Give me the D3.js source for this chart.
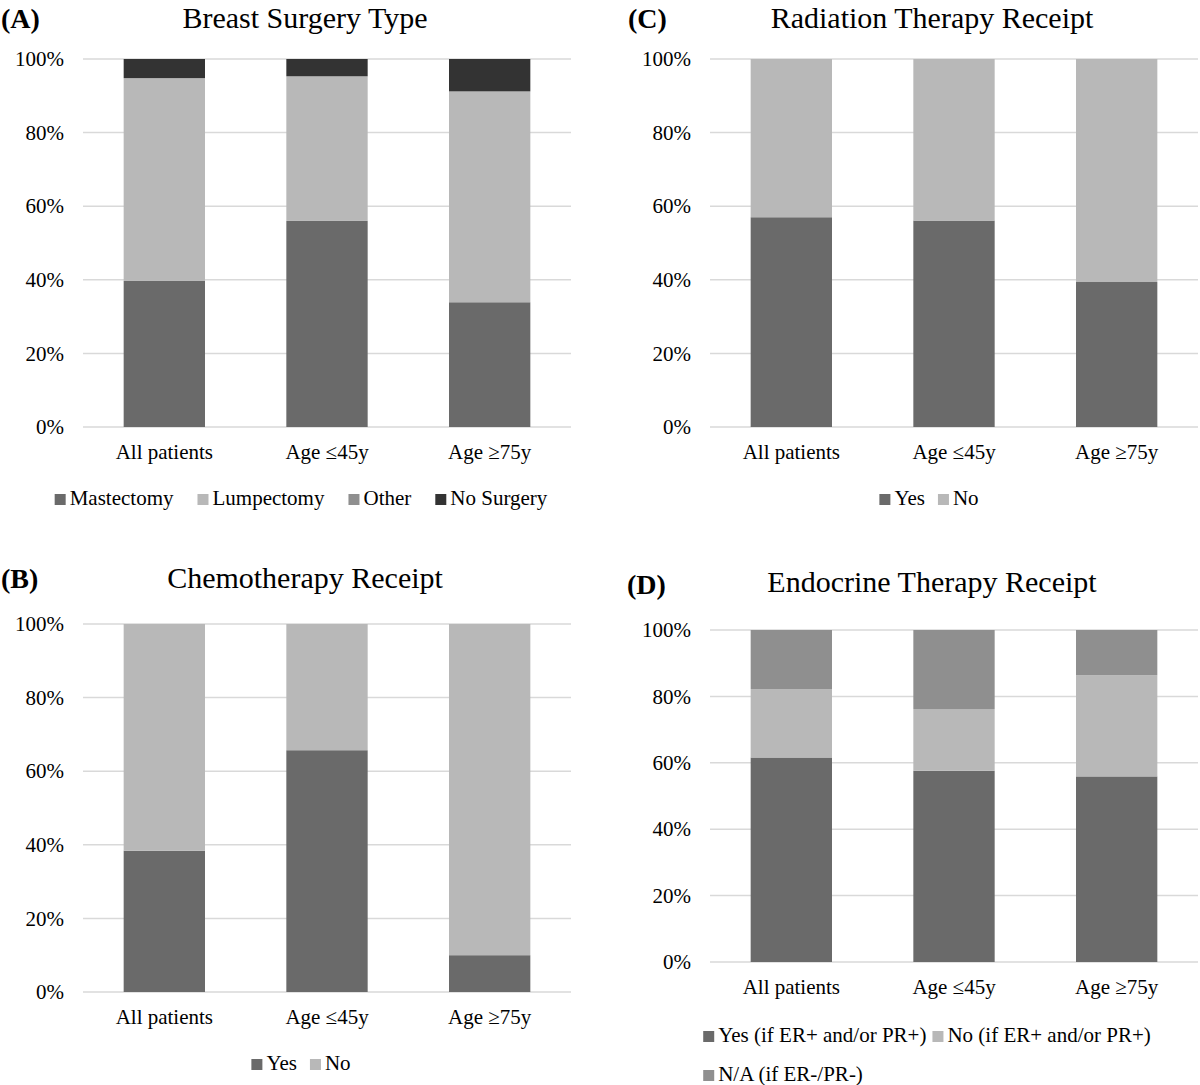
<!DOCTYPE html>
<html>
<head>
<meta charset="utf-8">
<script src="https://cdn.jsdelivr.net/npm/d3@7"></script>
<style>
  html, body { margin: 0; padding: 0; background: #ffffff; }
  svg text { font-family: "Liberation Serif", "Times New Roman", serif; fill: #000; }
</style>
</head>
<body>
<script>
// ---------- data ----------
const categories = ["All patients", "Age \u226445y", "Age \u226575y"];
const tickValues = [0, 20, 40, 60, 80, 100];

// (A) Breast Surgery Type
const surgeryKeys = ["Mastectomy", "Lumpectomy", "Other", "No Surgery"];
const mastectomy = [39.7, 56.0, 33.9];
const lumpectomy = [55.1, 39.3, 57.3];
const otherSurgery = [0, 0, 0];
const noSurgery = [5.2, 4.7, 8.8];

// (B) Chemotherapy Receipt
const yesNoKeys = ["Yes", "No"];
const chemoYes = [38.4, 65.7, 10.0];
const chemoNo = [61.6, 34.3, 90.0];

// (C) Radiation Therapy Receipt
const radYes = [57.0, 56.1, 39.4];
const radNo = [43.0, 43.9, 60.6];

// (D) Endocrine Therapy Receipt
const endoKeys = ["Yes (if ER+ and/or PR+)", "No (if ER+ and/or PR+)", "N/A (if ER-/PR-)"];
const endoYes = [61.6, 57.6, 55.9];
const endoNo = [20.6, 18.6, 30.5];
const endoNA = [17.8, 23.8, 13.6];

// ---------- styles ----------
const DARK = "#6a6a6a", LIGHT = "#b8b8b8", MID = "#8f8f8f", BLACK = "#333333";
const GRID = "#d9d9d9";

const svg = d3.select("body").append("svg")
  .attr("width", 1200).attr("height", 1085);

function drawPanel(cfg) {
  const g = svg.append("g");
  const x = d3.scaleBand().domain(categories)
    .range([83 + cfg.dx, 571 + cfg.dx]).paddingInner(0.5).paddingOuter(0.25);
  const y = d3.scaleLinear().domain([0, 100]).range([cfg.plotBottom, cfg.plotTop]);

  // panel letter + title
  g.append("text").attr("x", cfg.labelX).attr("y", cfg.titleY + cfg.labelDy)
    .attr("font-size", 28).attr("font-weight", "bold").text(cfg.label);
  g.append("text").attr("x", 305 + cfg.dx).attr("y", cfg.titleY)
    .attr("text-anchor", "middle").attr("font-size", 30).text(cfg.title);

  // gridlines
  g.append("g").selectAll("line").data(tickValues).join("line")
    .attr("x1", 83 + cfg.dx).attr("x2", 571 + cfg.dx)
    .attr("y1", d => y(d)).attr("y2", d => y(d))
    .attr("stroke", GRID).attr("stroke-width", 1.5);

  // y axis labels
  const ay = g.append("g").attr("transform", `translate(${83 + cfg.dx},0)`)
    .call(d3.axisLeft(y).tickValues(tickValues).tickFormat(d => d + "%").tickSize(0).tickPadding(19));
  ay.select(".domain").remove();
  ay.selectAll("text").attr("font-size", 21).attr("font-family", "Liberation Serif, serif").attr("fill", "#000");

  // stacked bars
  const rows = categories.map((c, i) => {
    const r = { cat: c };
    cfg.keys.forEach((k, j) => r[k] = cfg.series[j][i]);
    return r;
  });
  const stacked = d3.stack().keys(cfg.keys)(rows);
  g.append("g").selectAll("g").data(stacked).join("g")
    .attr("fill", (d, j) => cfg.colors[j])
    .selectAll("rect").data(d => d).join("rect")
    .attr("x", d => x(d.data.cat))
    .attr("width", x.bandwidth())
    .attr("y", d => y(d[1]))
    .attr("height", d => Math.max(0, y(d[0]) - y(d[1])));

  // category axis labels
  const ax = g.append("g").attr("transform", `translate(0,${cfg.plotBottom})`)
    .call(d3.axisBottom(x).tickSize(0).tickPadding(0));
  ax.select(".domain").remove();
  ax.selectAll("text").attr("font-size", 21).attr("font-family", "Liberation Serif, serif")
    .attr("fill", "#000").attr("dy", null).attr("y", cfg.catDy);

  // legend
  const lg = g.append("g");
  let startX = null;
  cfg.legendRows.forEach((row, ri) => {
    const by = cfg.legendY + ri * cfg.legendRowGap;
    const items = row.map(j => {
      const t = lg.append("text").attr("y", by).attr("font-size", 21).text(cfg.keys[j]);
      const w = t.node().getComputedTextLength();
      const r = lg.append("rect").attr("width", 11).attr("height", 11)
        .attr("y", by - 11).attr("fill", cfg.colors[j]);
      return { t, r, w };
    });
    const total = items.reduce((s, it) => s + 11 + 4 + it.w, 0) + cfg.legendGap * (items.length - 1);
    if (startX === null) startX = cfg.legendCenter - total / 2;
    let cx = startX;
    items.forEach(it => {
      it.r.attr("x", cx);
      it.t.attr("x", cx + 15);
      cx += 15 + it.w + cfg.legendGap;
    });
  });
}

const RIGHT = 627;

drawPanel({
  dx: 0, label: "(A)", labelX: 1, labelDy: 0, title: "Breast Surgery Type", titleY: 28,
  plotTop: 59, plotBottom: 427, catDy: 32,
  keys: surgeryKeys, series: [mastectomy, lumpectomy, otherSurgery, noSurgery],
  colors: [DARK, LIGHT, MID, BLACK],
  legendRows: [[0, 1, 2, 3]], legendGap: 24, legendCenter: 301, legendY: 505, legendRowGap: 0
});

drawPanel({
  dx: 0, label: "(B)", labelX: 1, labelDy: 0, title: "Chemotherapy Receipt", titleY: 588,
  plotTop: 624, plotBottom: 992, catDy: 32,
  keys: yesNoKeys, series: [chemoYes, chemoNo],
  colors: [DARK, LIGHT],
  legendRows: [[0, 1]], legendGap: 13, legendCenter: 301, legendY: 1070, legendRowGap: 0
});

drawPanel({
  dx: RIGHT, label: "(C)", labelX: 628, labelDy: 0, title: "Radiation Therapy Receipt", titleY: 28,
  plotTop: 59, plotBottom: 427, catDy: 32,
  keys: yesNoKeys, series: [radYes, radNo],
  colors: [DARK, LIGHT],
  legendRows: [[0, 1]], legendGap: 13, legendCenter: 929, legendY: 505, legendRowGap: 0
});

drawPanel({
  dx: RIGHT, label: "(D)", labelX: 627, labelDy: 2, title: "Endocrine Therapy Receipt", titleY: 592,
  plotTop: 630, plotBottom: 962, catDy: 32,
  keys: endoKeys, series: [endoYes, endoNo, endoNA],
  colors: [DARK, LIGHT, MID],
  legendRows: [[0, 1], [2]], legendGap: 6, legendCenter: 927, legendY: 1042, legendRowGap: 39
});
</script>
</body>
</html>
